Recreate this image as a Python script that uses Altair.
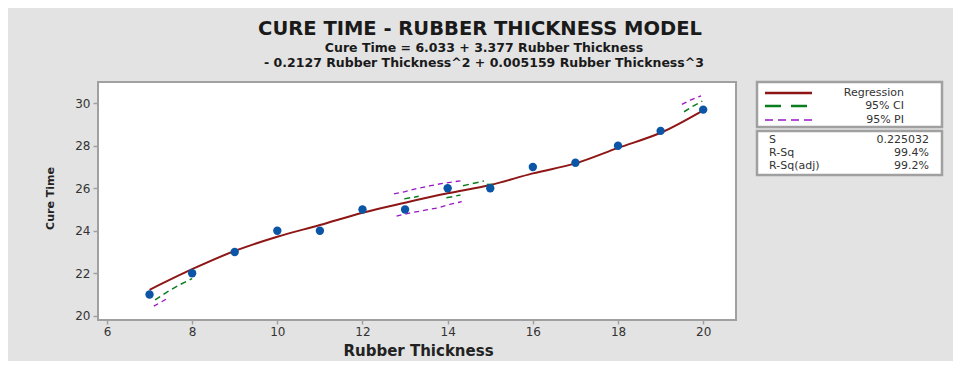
import altair as alt
import pandas as pd

# ---- data ----
thickness = [7, 8, 9, 10, 11, 12, 13, 14, 15, 16, 17, 18, 19, 20]
cure_time = [21.0, 22.0, 23.0, 24.0, 24.0, 25.0, 25.0, 26.0, 26.0, 27.0, 27.2, 28.0, 28.7, 29.7]

fit_x = [7, 8, 9, 10, 11, 12, 13, 14, 15, 16, 17, 18, 19, 20]
fit_y = [21.22, 22.19, 23.05, 23.72, 24.27, 24.85, 25.32, 25.76, 26.15, 26.70, 27.17, 27.90, 28.61, 29.67]

# visible fragments of the 95% CI band
ci_seg = ["a"] * 4 + ["b"] * 2 + ["c"] * 2 + ["d"] * 2 + ["e"] * 2 + ["f"] * 3
ci_x = [7.13, 7.40, 7.71, 8.00, 12.98, 13.32, 13.97, 14.30, 14.36, 14.85, 14.92, 15.12, 19.55, 19.75, 19.98]
ci_y = [20.75, 21.10, 21.46, 21.75, 25.50, 25.62, 25.55, 25.68, 26.12, 26.34, 26.18, 26.18, 29.60, 29.85, 30.10]

# visible fragments of the 95% PI band
pi_seg = ["a"] * 2 + ["b"] * 6 + ["c"] * 7 + ["d"] * 3
pi_x = [7.10, 7.45, 12.74, 13.00, 13.30, 13.60, 13.85, 14.30, 12.80, 12.95, 13.15, 13.50, 13.78, 14.05, 14.33, 19.50, 19.70, 19.95]
pi_y = [20.45, 20.85, 25.73, 25.84, 26.00, 26.12, 26.22, 26.35, 24.69, 24.76, 24.85, 24.98, 25.08, 25.24, 25.37, 29.95, 30.15, 30.35]

x_ticks = [6, 8, 10, 12, 14, 16, 18, 20]
y_ticks = [20, 22, 24, 26, 28, 30]

title_text = "CURE TIME - RUBBER THICKNESS MODEL"
sub1 = "Cure Time = 6.033 + 3.377 Rubber Thickness"
sub2 = "- 0.2127 Rubber Thickness^2 + 0.005159 Rubber Thickness^3"
legend_names = ["Regression", "95% CI", "95% PI"]
stat_names = ["S", "R-Sq", "R-Sq(adj)"]
stat_values = ["0.225032", "99.4%", "99.2%"]

# ---- colours ----
C_REG = "#8e1616"
C_CI = "#0a7d1e"
C_PI = "#9a16c4"
C_PT = "#0b55a6"
FONT = "DejaVu Sans"

obs = pd.DataFrame({"x": thickness, "y": cure_time})
fit = pd.DataFrame({"x": fit_x, "y": fit_y})
ci = pd.DataFrame({"x": ci_x, "y": ci_y, "seg": ci_seg})
pi = pd.DataFrame({"x": pi_x, "y": pi_y, "seg": pi_seg})

xs = alt.Scale(domain=[5.79, 20.77], nice=False, zero=False)
ys = alt.Scale(domain=[19.8, 31.0], nice=False, zero=False)

x_enc = alt.X("x:Q", scale=xs, axis=alt.Axis(
    values=x_ticks, title="Rubber Thickness", titleX=320, titleY=30,
    titleFont=FONT, titleFontSize=15, titleFontWeight="bold", titleColor="#222",
    titleAlign="center", titleBaseline="middle",
    labelFont=FONT, labelFontSize=12, labelColor="#333", labelPadding=2,
    tickSize=4, tickColor="#a0a0a0", tickWidth=1.5, domain=False, grid=False))
y_enc = alt.Y("y:Q", scale=ys, axis=alt.Axis(
    values=y_ticks, title="Cure Time", titleX=-48, titleY=116, titleAngle=-90,
    titleFont=FONT, titleFontSize=11, titleFontWeight="bold", titleColor="#222",
    titleAlign="center", titleBaseline="middle",
    labelFont=FONT, labelFontSize=12, labelColor="#333", labelPadding=3,
    tickSize=5, tickColor="#a0a0a0", tickWidth=1.5, domain=False, grid=False))

reg = alt.Chart(fit).mark_line(color=C_REG, strokeWidth=2, interpolate="monotone").encode(x=x_enc, y=y_enc)
ci_l = alt.Chart(ci).mark_line(color=C_CI, strokeWidth=1.5, strokeDash=[6, 4]).encode(x="x:Q", y="y:Q", detail="seg:N")
pi_l = alt.Chart(pi).mark_line(color=C_PI, strokeWidth=1.3, strokeDash=[5, 4]).encode(x="x:Q", y="y:Q", detail="seg:N")
pts = alt.Chart(obs).mark_point(filled=True, shape="circle", size=70, color=C_PT, opacity=1).encode(x="x:Q", y="y:Q")

one = pd.DataFrame({"k": [0]})


def txt(s, x, y, size, weight="normal", align="center", color="#1a1a1a"):
    return alt.Chart(one).mark_text(text=s, font=FONT, fontSize=size, fontWeight=weight,
                                    align=align, baseline="middle", color=color).encode(
        x=alt.value(x), y=alt.value(y))


def box(x1, x2, y1, y2):
    return alt.Chart(one).mark_rect(fill="white", stroke="#a0a0a0", strokeWidth=2.5).encode(
        x=alt.value(x1), x2=alt.value(x2), y=alt.value(y1), y2=alt.value(y2))


def sample(y, color, dash, width):
    kw = {"color": color, "strokeWidth": width}
    if dash:
        kw["strokeDash"] = dash
    return alt.Chart(one).mark_rule(**kw).encode(x=alt.value(667), x2=alt.value(714), y=alt.value(y))


layers = [reg, ci_l, pi_l, pts,
          txt(title_text, 382, -53, 19.5, "bold"),
          txt(sub1, 386, -34, 12.5, "bold"),
          txt(sub2, 386, -19, 12.5, "bold"),
          box(659, 844, 0, 45), box(659, 844, 49, 93),
          sample(11, C_REG, None, 2.5), sample(24, C_CI, [16, 10], 2.5), sample(38, C_PI, [8, 5], 1.5)]
for name, yy in zip(legend_names, [11, 24, 38]):
    layers.append(txt(name, 806, yy, 11, align="right", color="#333"))
for name, val, yy in zip(stat_names, stat_values, [58, 71, 84]):
    layers.append(txt(name, 671, yy, 11, align="left", color="#333"))
    layers.append(txt(val, 831, yy, 11, align="right", color="#333"))

chart = alt.layer(*layers).properties(
    width=638, height=238,
    padding={"left": 90, "top": 74, "right": 217, "bottom": 41},
    autosize=alt.AutoSizeParams(type="none"),
    background="#e3e3e3",
).configure_view(stroke="#a0a0a0", strokeWidth=2, fill="white")

chart.save("out.html", embed_options={"renderer": "svg", "actions": False})
